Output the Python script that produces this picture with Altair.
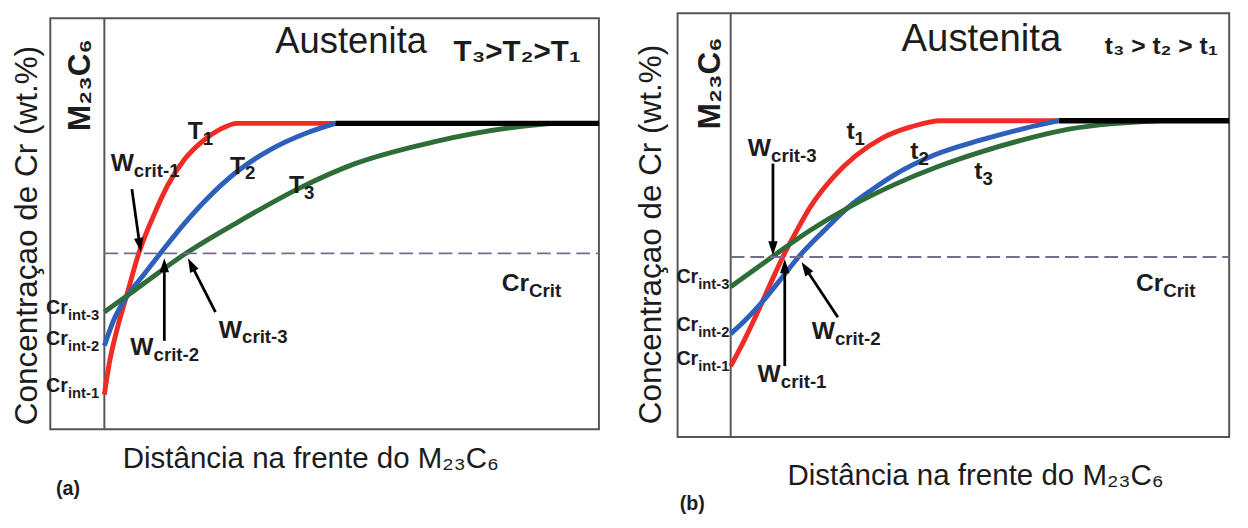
import math
import altair as alt
import pandas as pd

FONTE = "Liberation Sans"
FONTE_ESTREITA = "Liberation Sans Narrow, Liberation Sans"
TITULO_X = "Distância na frente do M₂₃C₆"
TITULO_Y = "Concentraçao de Cr (wt.%)"
SERIES = ["1", "2", "3"]
CORES = ["#ef2b24", "#2d5fbd", "#2e6c38"]
COR_TEXTO = "#1c1c1c"
COR_MOLDURA = "#555555"

# ---------------- panel (a): temperature ----------------
a_x1 = [0.0, 0.10, 0.26, 0.46, 0.70, 1.00, 1.30, 1.64, 2.00, 2.36, 2.70, 4.70]
a_y1 = [0.84, 1.60, 2.44, 3.28, 4.28, 5.19, 5.96, 6.58, 7.01, 7.30, 7.44, 7.44]
a_x2 = [0.0, 0.20, 0.46, 0.80, 1.14, 1.64, 2.10, 2.70, 3.36, 4.10, 4.70]
a_y2 = [2.03, 2.68, 3.23, 3.76, 4.28, 5.02, 5.62, 6.27, 6.79, 7.20, 7.44]
a_x3 = [0.0, 0.64, 1.66, 2.76, 3.96, 5.10, 6.70, 8.30, 9.10]
a_y3 = [2.85, 3.40, 4.28, 5.07, 5.86, 6.46, 6.99, 7.34, 7.44]
a_plato_x = [4.70, 10.06]
a_plato_y = 7.44
a_cr_crit = 4.28
a_dominio_x = [-1.10, 10.06]
a_dominio_y = [0.0, 10.12]
a_topo = 10.0

a_seta_x0 = [0.56, 1.22, 2.26]
a_seta_y0 = [5.84, 2.15, 2.85]
a_seta_x1 = [0.74, 1.22, 1.70]
a_seta_y1 = [4.31, 4.16, 4.16]

a_rot_princ = ["T", "T", "T", "W", "W", "W", "Cr", "Cr", "Cr", "Cr"]
a_rot_sub = ["1", "2", "3", "crit-1", "crit-2", "crit-3", "Crit", "int-3", "int-2", "int-1"]
a_rot_x = [2.00, 2.86, 4.06, 0.60, 1.00, 2.80, 8.64, -0.74, -0.74, -0.74]
a_rot_y = [7.25, 6.41, 5.93, 6.48, 1.99, 2.42, 3.56, 2.94, 2.20, 1.05]
a_rot_tipo = ["g", "g", "g", "g", "g", "g", "g", "p", "p", "p"]

# Austenita, order of temperatures, M23C6, panel tag, x title, y title
a_textos = ["Austenita", "T₃>T₂>T₁", "M₂₃C₆", "(a)", TITULO_X, TITULO_Y]
a_textos_x = [5.02, 8.40, -0.50, -0.74, 4.20, -1.58]
a_textos_y = [9.42, 9.17, 8.37, -1.46, -0.74, 4.71]

# ---------------- panel (b): time ----------------
b_x1 = [0.0, 0.28, 0.54, 0.80, 1.06, 1.32, 1.62, 2.08, 2.54, 3.08, 3.68, 4.28, 6.68]
b_y1 = [1.67, 2.29, 2.92, 3.59, 4.24, 4.81, 5.42, 6.11, 6.62, 7.04, 7.31, 7.45, 7.45]
b_x2 = [0.0, 0.28, 0.58, 0.98, 1.38, 1.88, 2.42, 2.88, 3.34, 4.14, 5.08, 5.98, 6.68]
b_y2 = [2.43, 2.73, 3.10, 3.66, 4.24, 4.84, 5.44, 5.83, 6.18, 6.64, 6.99, 7.27, 7.45]
b_x3 = [0.0, 0.84, 1.58, 2.42, 3.34, 4.22, 5.08, 5.98, 6.88, 7.78, 8.68]
b_y3 = [3.54, 4.24, 4.84, 5.42, 5.95, 6.37, 6.71, 7.01, 7.25, 7.38, 7.45]
b_plato_x = [6.68, 10.14]
b_plato_y = 7.45
b_cr_crit = 4.24
b_dominio_x = [-1.08, 10.14]
b_dominio_y = [0.0, 9.98]
b_topo = 9.98

b_seta_x0 = [0.86, 1.10, 2.18]
b_seta_y0 = [6.44, 1.67, 2.82]
b_seta_x1 = [0.86, 1.10, 1.44]
b_seta_y1 = [4.28, 4.19, 4.12]

b_rot_princ = ["t", "t", "t", "W", "W", "W", "Cr", "Cr", "Cr", "Cr"]
b_rot_sub = ["1", "2", "3", "crit-3", "crit-2", "crit-1", "Crit", "int-3", "int-2", "int-1"]
b_rot_x = [2.52, 3.82, 5.12, 0.82, 2.12, 1.02, 8.80, -0.66, -0.66, -0.66]
b_rot_y = [7.20, 6.74, 6.27, 6.81, 2.50, 1.48, 3.63, 3.77, 2.64, 1.83]
b_rot_tipo = ["g", "g", "g", "g", "g", "g", "g", "p", "p", "p"]

b_textos = ["Austenita", "t₃ > t₂ > t₁", "M₂₃C₆", "(b)", TITULO_X, TITULO_Y]
b_textos_x = [5.10, 8.76, -0.42, -0.78, 4.98, -1.62]
b_textos_y = [9.36, 9.20, 8.33, -1.57, -0.93, 4.77]


def painel(xs, ys, plato_x, plato_y, crit, dom_x, dom_y, topo, W, H,
           sx0, sy0, sx1, sy1, rp, rs, rx, ry, rt, tx, ttx, tty, fs_aust, fs_ordem):
    kx = W / (dom_x[1] - dom_x[0])
    ky = H / (dom_y[1] - dom_y[0])
    esc_x = alt.Scale(domain=dom_x, nice=False, zero=False)
    esc_y = alt.Scale(domain=dom_y, nice=False, zero=False)

    def X(f="x"):
        return alt.X(f"{f}:Q", scale=esc_x, axis=None)

    def Y(f="y"):
        return alt.Y(f"{f}:Q", scale=esc_y, axis=None)

    # frame of the diagram and the carbide / austenite interface
    df_m = pd.DataFrame({"x": [dom_x[0]], "x2": [dom_x[1]], "y": [0.0], "y2": [topo]})
    moldura = alt.Chart(df_m).mark_rect(filled=False, color=COR_MOLDURA, strokeWidth=2).encode(
        x=X(), x2="x2:Q", y=Y(), y2="y2:Q")
    df_i = pd.DataFrame({"x": [0.0], "y": [0.0], "y2": [topo]})
    interface = alt.Chart(df_i).mark_rule(color=COR_MOLDURA, strokeWidth=2).encode(x=X(), y=Y(), y2="y2:Q")

    linhas = []
    for s, (cx, cy) in zip(SERIES, zip(xs, ys)):
        for i, (u, v) in enumerate(zip(cx, cy)):
            linhas.append({"x": u, "y": v, "serie": s, "ordem": i})
    df_c = pd.DataFrame(linhas)

    curvas = alt.Chart(df_c).mark_line(strokeWidth=5, interpolate="monotone", strokeCap="butt").encode(
        x=X(), y=Y(),
        color=alt.Color("serie:N", scale=alt.Scale(domain=SERIES, range=CORES), legend=None),
        order=alt.Order("ordem:Q"),
    )

    df_p = pd.DataFrame({"x": plato_x, "y": [plato_y] * len(plato_x)})
    plato = alt.Chart(df_p).mark_line(strokeWidth=5.5, color="#000000", strokeCap="butt").encode(x=X(), y=Y())

    df_crit = pd.DataFrame({"x": [0.0], "x2": [dom_x[1]], "y": [crit]})
    tracejado = alt.Chart(df_crit).mark_rule(strokeDash=[14, 6], color="#6f6f8c", strokeWidth=1.8).encode(
        x=X(), x2="x2:Q", y=Y())

    # arrows
    setas = []
    for x0, y0, x1, y1 in zip(sx0, sy0, sx1, sy1):
        dxp = (x1 - x0) * kx
        dyp = -(y1 - y0) * ky
        L = math.hypot(dxp, dyp)
        ux, uy = dxp / L, dyp / L
        ang = math.degrees(math.atan2(ux, -uy)) % 360
        cx = x1 - ux * 8 / kx
        cy = y1 + uy * 8 / ky
        setas.append({"x": x0, "y": y0, "xc": cx, "yc": cy, "ang": ang})
    df_s = pd.DataFrame(setas)
    hastes = alt.Chart(df_s).mark_rule(color="#000000", strokeWidth=2.8).encode(
        x=X(), y=Y(), x2="xc:Q", y2="yc:Q")
    pontas = alt.Chart(df_s).mark_point(
        shape="M0,-1L0.6,0.8L-0.6,0.8Z", filled=True, color="#000000", opacity=1, size=256
    ).encode(x=X("xc"), y=Y("yc"), angle=alt.Angle("ang:Q", scale=None))

    df_r = pd.DataFrame({"p": rp, "s": rs, "x": rx, "y": ry, "t": rt})
    rotulos = []
    for tipo, fp, fs, dy in (("g", 25, 19, 8), ("p", 20, 15, 7)):
        base = alt.Chart(df_r).transform_filter(alt.datum.t == tipo)
        rotulos.append(base.mark_text(align="right", baseline="middle", font=FONTE, fontWeight="bold",
                                      fontSize=fp, color=COR_TEXTO).encode(x=X(), y=Y(), text="p:N"))
        rotulos.append(base.mark_text(align="left", baseline="middle", font=FONTE, fontWeight="bold",
                                      fontSize=fs, dy=dy, color=COR_TEXTO).encode(x=X(), y=Y(), text="s:N"))

    df_t = pd.DataFrame({"txt": tx, "x": ttx, "y": tty})

    def texto(i, **kw):
        return alt.Chart(df_t.iloc[[i]]).mark_text(color=COR_TEXTO, baseline="middle", **kw).encode(
            x=X(), y=Y(), text="txt:N")

    textos = [
        texto(0, font=FONTE, fontSize=fs_aust),
        texto(1, font=FONTE_ESTREITA, fontSize=fs_ordem, fontWeight="bold"),
        texto(2, font=FONTE, fontSize=32, fontWeight="bold", angle=270),
        texto(3, font=FONTE, fontSize=20, fontWeight="bold"),
        texto(4, font=FONTE, fontSize=30),
        texto(5, font=FONTE, fontSize=32, angle=270),
    ]

    camadas = [moldura, interface, curvas, tracejado, plato, hastes, pontas] + rotulos + textos
    return alt.layer(*camadas).properties(width=W, height=H)


pa = painel([a_x1, a_x2, a_x3], [a_y1, a_y2, a_y3], a_plato_x, a_plato_y, a_cr_crit,
            a_dominio_x, a_dominio_y, a_topo, 558, 423,
            a_seta_x0, a_seta_y0, a_seta_x1, a_seta_y1,
            a_rot_princ, a_rot_sub, a_rot_x, a_rot_y, a_rot_tipo,
            a_textos, a_textos_x, a_textos_y, fs_aust=37, fs_ordem=30)
pb = painel([b_x1, b_x2, b_x3], [b_y1, b_y2, b_y3], b_plato_x, b_plato_y, b_cr_crit,
            b_dominio_x, b_dominio_y, b_topo, 561, 431,
            b_seta_x0, b_seta_y0, b_seta_x1, b_seta_y1,
            b_rot_princ, b_rot_sub, b_rot_x, b_rot_y, b_rot_tipo,
            b_textos, b_textos_x, b_textos_y, fs_aust=39, fs_ordem=25)

chart = alt.hconcat(pa, pb, spacing=25).properties(
    padding={"left": 2, "top": 0, "right": 0, "bottom": 0}
).configure(font=FONTE).configure_view(stroke="transparent", strokeWidth=0)

chart.save("out.html", embed_options={"renderer": "svg", "actions": False})
